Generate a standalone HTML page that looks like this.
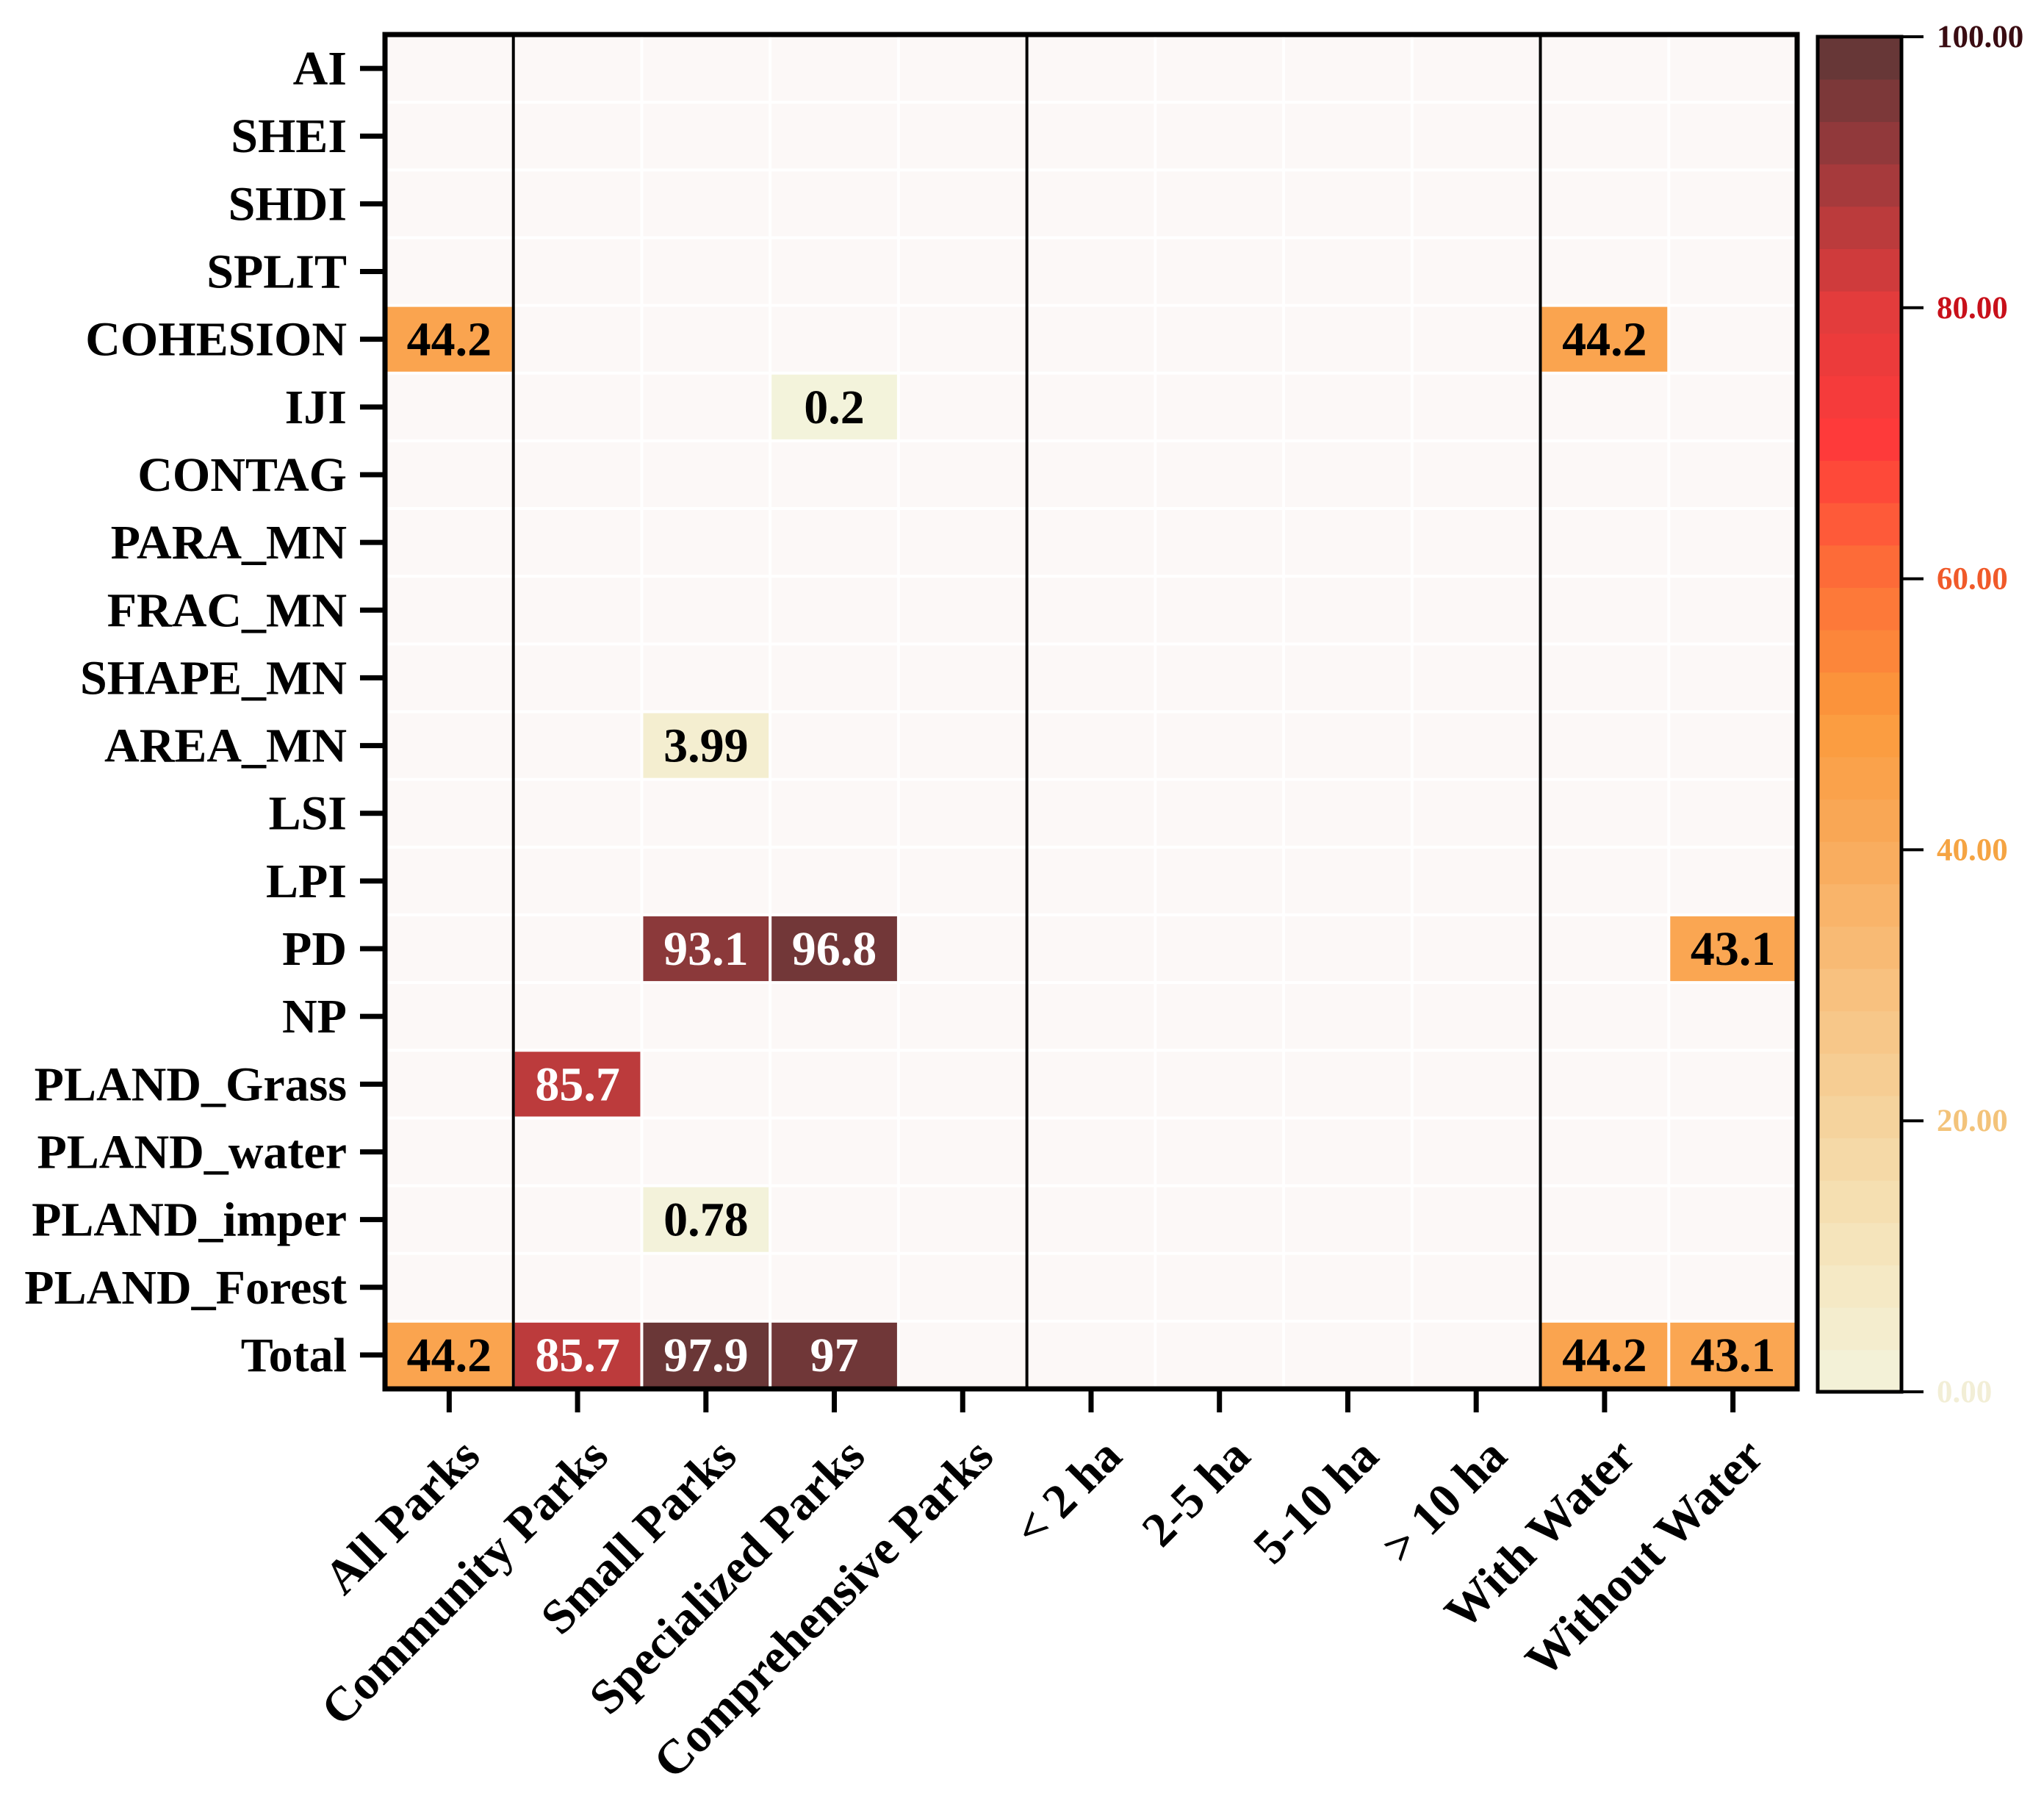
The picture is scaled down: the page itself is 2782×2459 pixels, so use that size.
<!DOCTYPE html>
<html><head><meta charset="utf-8">
<style>
html,body{margin:0;padding:0;background:#fff;}
svg{display:block;}
text{font-family:"Liberation Serif","DejaVu Serif",serif;font-weight:bold;}
</style></head>
<body>
<svg id="chart" width="2782" height="2459" viewBox="0 0 2782 2459" xmlns="http://www.w3.org/2000/svg">
<g id="cells"></g>
<g id="axes"></g>
<g id="cbar"></g>
</svg>
<script>
const rowLabels = ["AI","SHEI","SHDI","SPLIT","COHESION","IJI","CONTAG","PARA_MN","FRAC_MN","SHAPE_MN","AREA_MN","LSI","LPI","PD","NP","PLAND_Grass","PLAND_water","PLAND_imper","PLAND_Forest","Total"];
const colLabels = ["All Parks","Community Parks","Small Parks","Specialized Parks","Comprehensive Parks","< 2 ha","2-5 ha","5-10 ha","> 10 ha","With Water","Without Water"];
const rowCohesion = [44.2,null,null,null,null,null,null,null,null,44.2,null];
const rowIJI = [null,null,null,0.2,null,null,null,null,null,null,null];
const rowAreaMn = [null,null,3.99,null,null,null,null,null,null,null,null];
const rowPD = [null,null,93.1,96.8,null,null,null,null,null,null,43.1];
const rowGrass = [null,85.7,null,null,null,null,null,null,null,null,null];
const rowImper = [null,null,0.78,null,null,null,null,null,null,null,null];
const rowTotal = [44.2,85.7,97.9,97,null,null,null,null,null,44.2,43.1];
const cbTicks = [0,20,40,60,80,100];
const cbTickColors = ["#f2eed6","#f3c37a","#f5a443","#f05a2a","#c8101a","#3a0c12"];

const E = () => [null,null,null,null,null,null,null,null,null,null,null];
const values = [E(),E(),E(),E(),rowCohesion,rowIJI,E(),E(),E(),E(),rowAreaMn,E(),E(),rowPD,E(),rowGrass,E(),rowImper,E(),rowTotal];

const NS = "http://www.w3.org/2000/svg";
const L = 524, R = 2446, T = 47, B = 1890;
const cw = (R - L) / colLabels.length, rh = (B - T) / rowLabels.length;
const xs = i => L + i * cw;
const ys = j => T + j * rh;
const stops = [[0,[243,243,220]],[10,[245,230,190]],[20,[245,212,158]],[30,[248,192,126]],[40,[249,171,92]],[50,[251,154,60]],[60,[253,112,56]],[70,[255,58,58]],[80,[226,60,60]],[90,[160,58,60]],[100,[92,54,54]]];
function color(v){
  for(let i=0;i<stops.length-1;i++){
    const a=stops[i],b=stops[i+1];
    if(v<=b[0]){const t=(v-a[0])/(b[0]-a[0]);
      const c=a[1].map((x,k)=>Math.round(x+(b[1][k]-x)*t));return `rgb(${c.join(',')})`;}
  }
  return 'rgb(92,54,54)';
}
function mk(tag, attrs, parent){const e=document.createElementNS(NS,tag);for(const k in attrs)e.setAttribute(k,attrs[k]);parent.appendChild(e);return e;}
const gC=document.getElementById('cells'), gA=document.getElementById('axes'), gB=document.getElementById('cbar');

mk('rect',{x:L,y:T,width:R-L,height:B-T,fill:'#ffffff'},gC);
for(let j=0;j<rowLabels.length;j++){
  for(let i=0;i<colLabels.length;i++){
    const v=values[j][i];
    const r=mk('rect',{x:xs(i)+2,y:ys(j)+2,width:cw-4,height:rh-4,fill:v==null?'#fcf8f7':color(v)},gC);
    
    
    if(v!=null){
      const t=mk('text',{x:xs(i)+cw/2,y:ys(j)+rh/2+22,'text-anchor':'middle','font-size':66,fill:v>70?'#ffffff':'#000000'},gC);
      t.textContent=String(v);
      
      
    }
  }
}
[1,5,9].forEach(i=>{mk('line',{x1:xs(i),y1:T,x2:xs(i),y2:B,stroke:'#000','stroke-width':4},gA);});
mk('rect',{x:L,y:T,width:R-L,height:B-T,fill:'none',stroke:'#000','stroke-width':7},gA);
rowLabels.forEach((lab,j)=>{
  const y=ys(j)+rh/2;
  mk('line',{x1:490,y1:y,x2:L,y2:y,stroke:'#000','stroke-width':7},gA);
  const t=mk('text',{x:472,y:y+22,'text-anchor':'end','font-size':66,fill:'#000'},gA);
  t.textContent=lab;
  
  
});
colLabels.forEach((lab,i)=>{
  const x=xs(i)+cw/2;
  mk('line',{x1:x,y1:B,x2:x,y2:B+32,stroke:'#000','stroke-width':7},gA);
  const t=mk('text',{x:x+45,y:1985,'text-anchor':'end','font-size':66,fill:'#000',transform:`rotate(-45 ${x+45} 1985)`},gA);
  t.textContent=lab;
  
  
});
const CL=2474, CR=2588, CT=50, CB=1894;
const cy = v => CB - (v/100)*(CB-CT);
const N=32;
for(let k=0;k<N;k++){
  const v0=k*100/N, v1=(k+1)*100/N;
  mk('rect',{x:CL,y:cy(v1),width:CR-CL,height:cy(v0)-cy(v1)+0.8,fill:color((v0+v1)/2)},gB);
}
mk('rect',{x:CL,y:CT,width:CR-CL,height:CB-CT,fill:'none',stroke:'#000','stroke-width':5},gB);
cbTicks.forEach((v,k)=>{
  const y=cy(v);
  mk('line',{x1:CR,y1:y,x2:2618,y2:y,stroke:'#000','stroke-width':4},gB);
  const t=mk('text',{x:2636,y:y+14,'font-size':43,fill:cbTickColors[k]},gB);
  t.textContent=v.toFixed(2);
  
  
});
</script>
</body></html>
